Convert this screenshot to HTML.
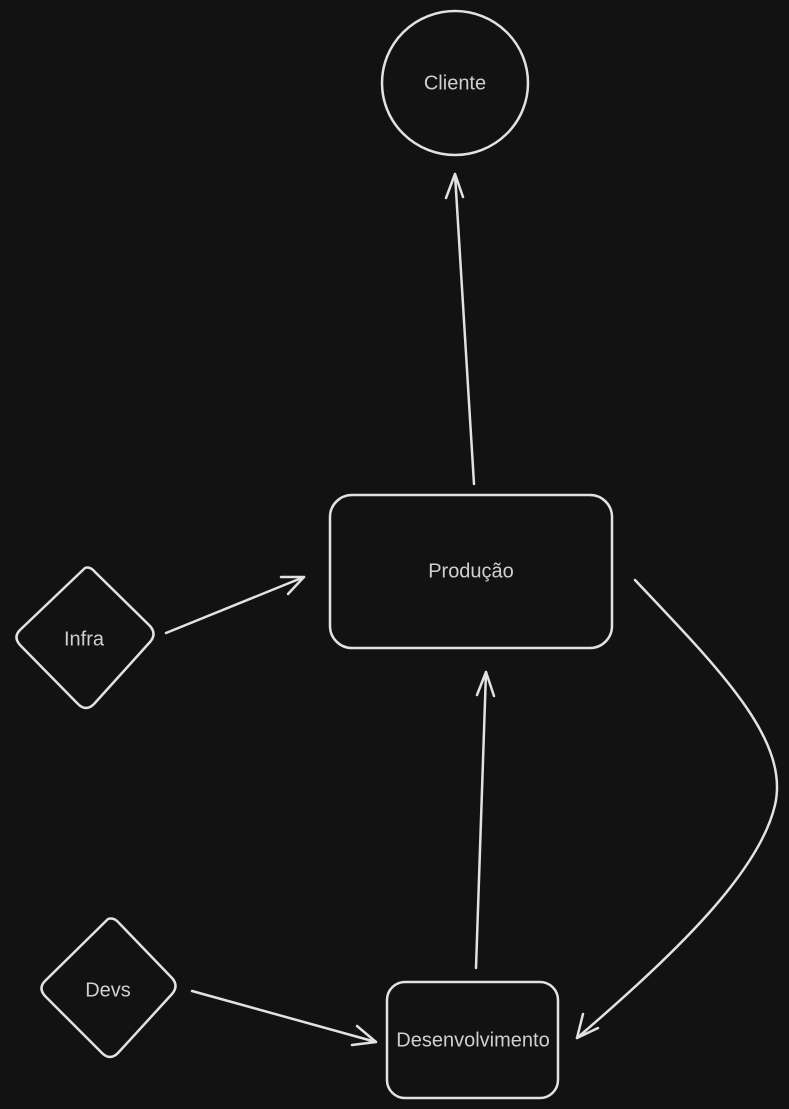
<!DOCTYPE html>
<html><head><meta charset="utf-8"><style>
html,body{margin:0;padding:0;background:#121212;}
svg{display:block;}
text{font-family:"Liberation Sans",sans-serif;font-size:20px;fill:#cfcfcf;text-anchor:middle;dominant-baseline:middle;}
</style></head><body>
<svg width="789" height="1109" viewBox="0 0 789 1109" xmlns="http://www.w3.org/2000/svg">
<rect width="789" height="1109" fill="#121212"/>
<g fill="none" stroke="#e2e2e2" stroke-width="2.5" stroke-linecap="round" stroke-linejoin="round">
<ellipse cx="455" cy="83" rx="73" ry="72"/>
<rect x="330" y="495" width="282" height="153" rx="22"/>
<rect x="387" y="982" width="171" height="116" rx="18"/>
<path d="M85 568 Q90 566 95 572 L150 626 Q157 634 150 642 L94 704 Q86 712 78 704 L20 645 Q13 637 20 630 Z"/>
<path d="M108 919 Q114 917 119 923 L172 978 Q179 986 172 994 L118 1053 Q110 1061 102 1053 L45 996 Q38 988 45 981 Z"/>
<path d="M474 484 L455 174"/>
<path d="M446 198 L455 174 L463 197"/>
<path d="M166 633 L304 577"/>
<path d="M281 577 L304 577 L288 594"/>
<path d="M476 968 L486 672"/>
<path d="M477 695 L486 672 L494 696"/>
<path d="M192 991 L376 1042"/>
<path d="M357 1026 L376 1042 L352 1045"/>
<path d="M635 580 C720 670 790 740 775 805 C760 870 680 950 577 1038"/>
<path d="M583 1014 L577 1038 L598 1028"/>
</g>
<text x="455" y="84">Cliente</text>
<text x="471" y="572">Produção</text>
<text x="84" y="640">Infra</text>
<text x="108" y="991">Devs</text>
<text x="473" y="1041">Desenvolvimento</text>
</svg>
</body></html>
